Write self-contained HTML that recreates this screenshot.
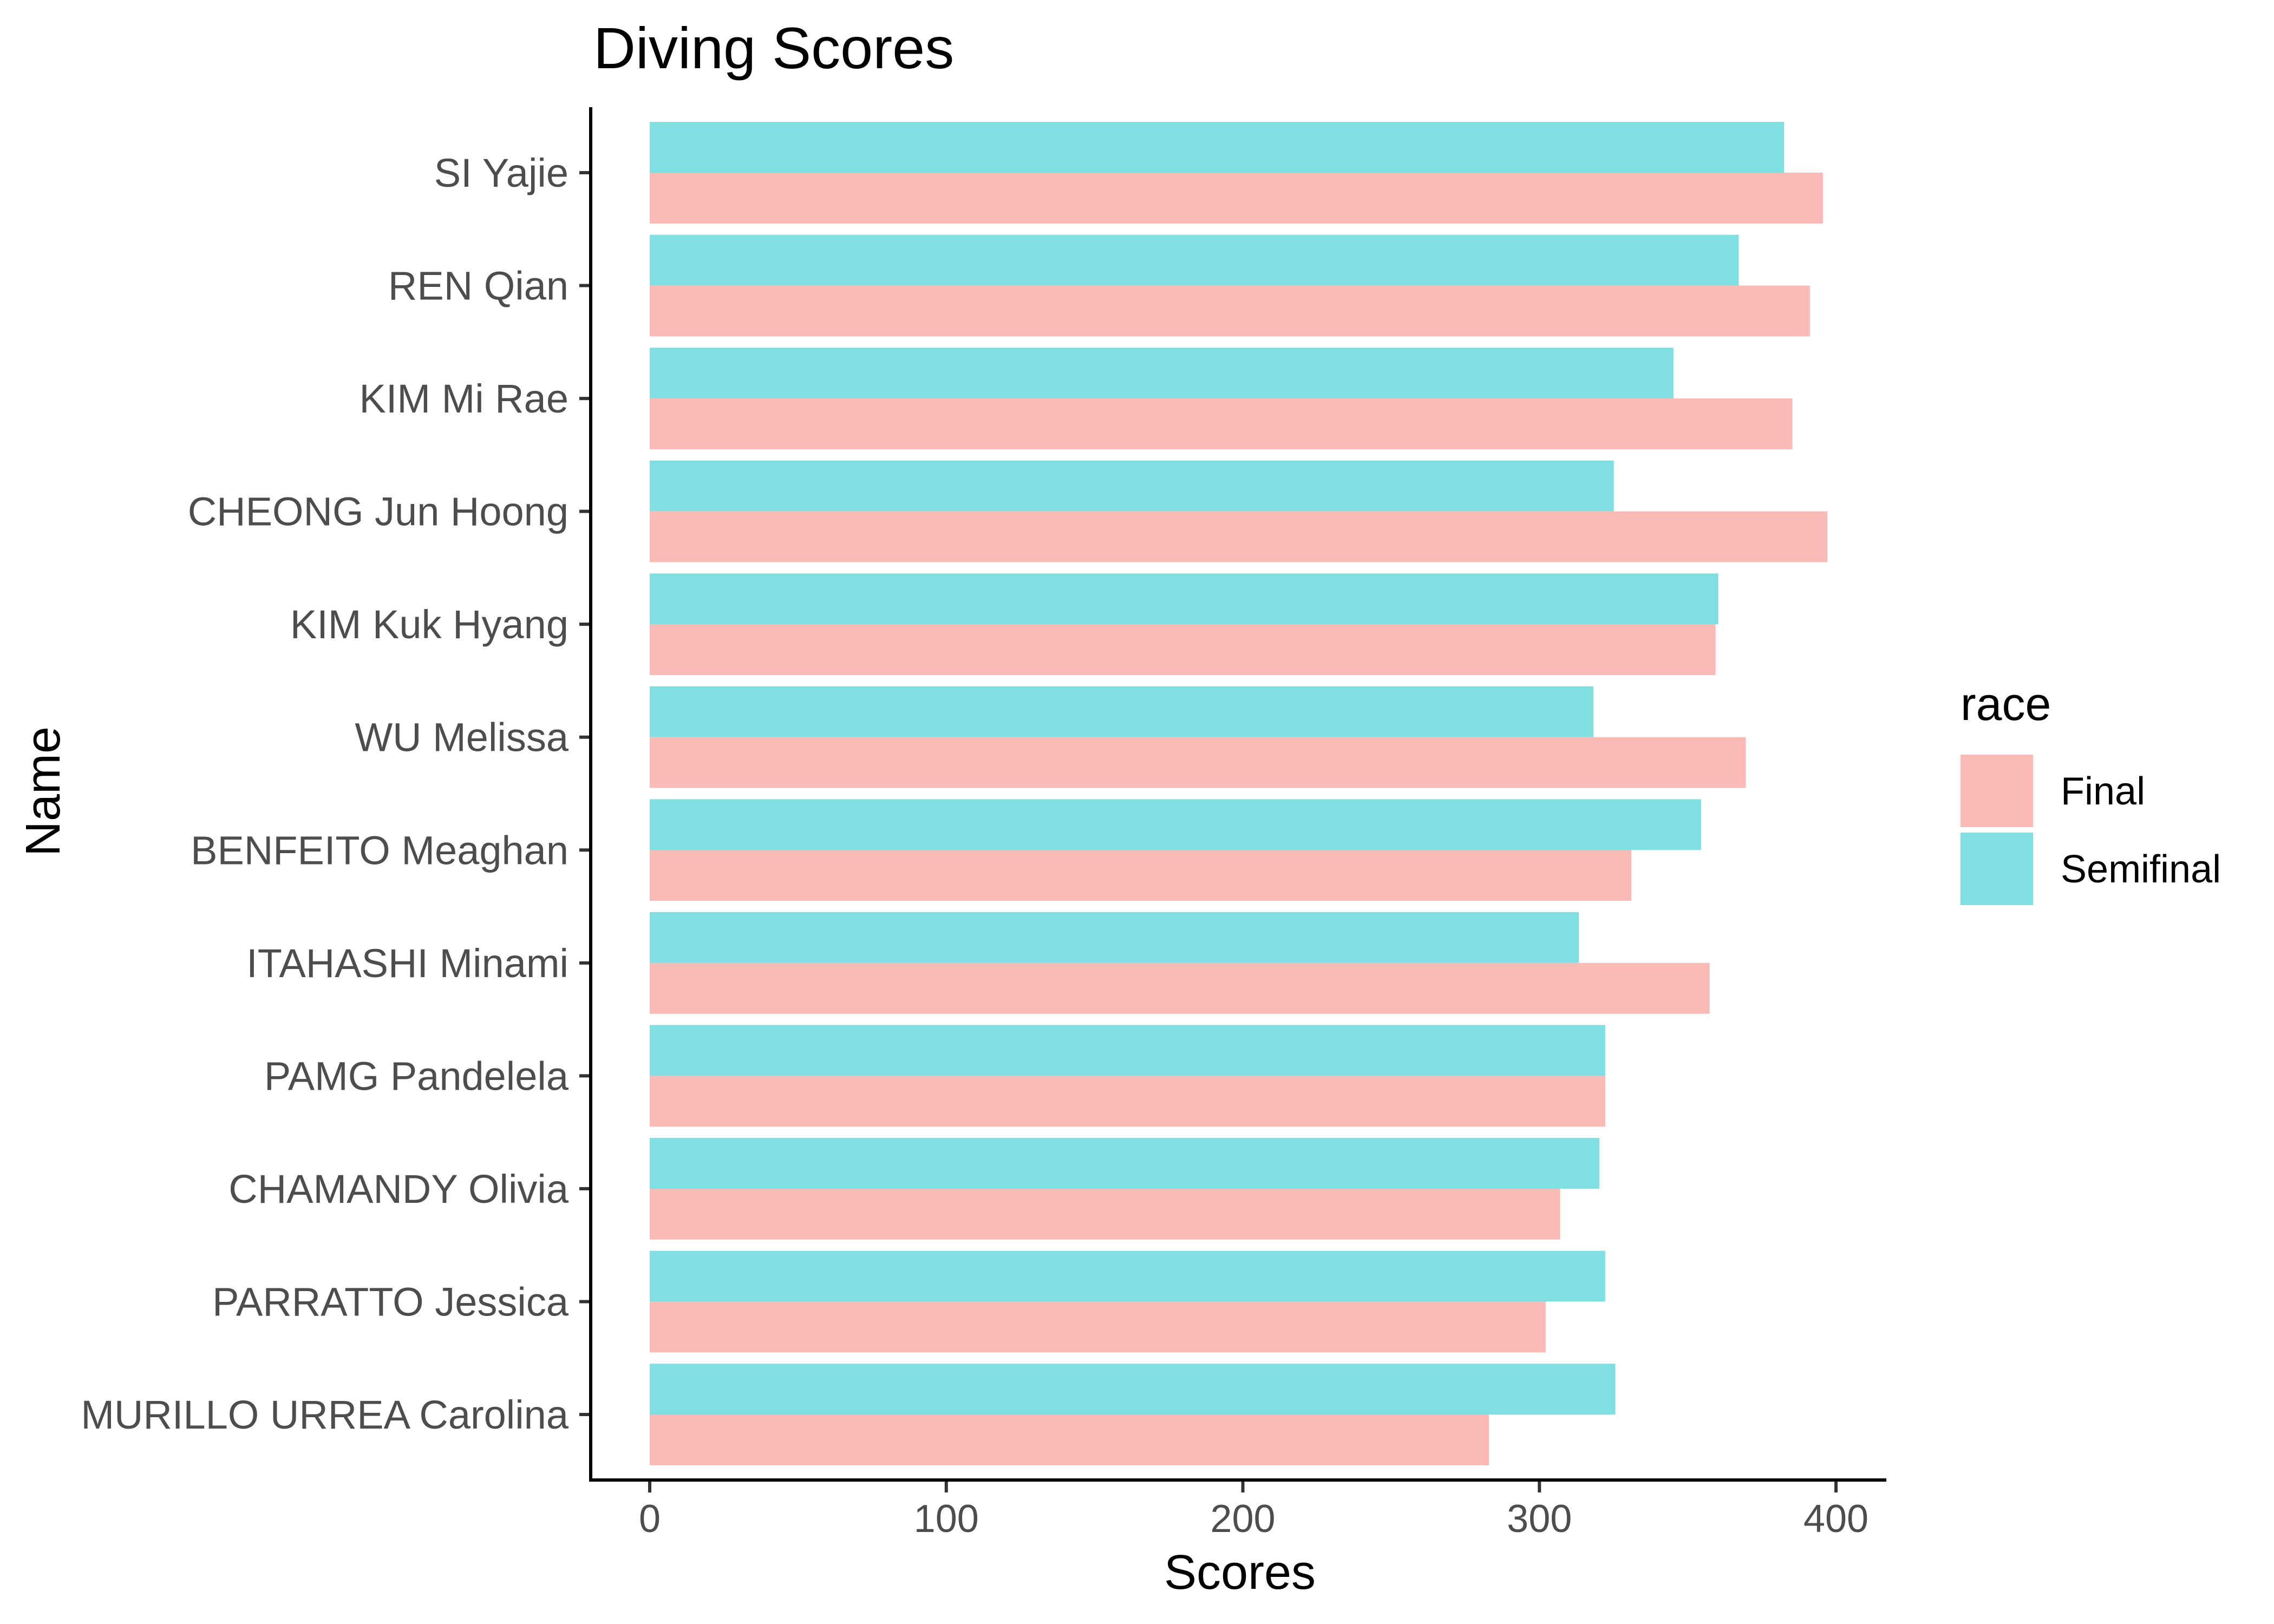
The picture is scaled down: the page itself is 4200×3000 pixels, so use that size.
<!DOCTYPE html>
<html><head><meta charset="utf-8"><style>
html,body{margin:0;padding:0;background:#fff;}
svg{display:block;font-family:"Liberation Sans",Arial,sans-serif;}
</style></head><body>
<svg id="chart" width="4200" height="3000" viewBox="0 0 4200 3000">
<text x="1096" y="126" font-size="108" fill="#000">Diving Scores</text>
<g id="bars"></g>
<g id="yaxis"></g>
<g id="xaxis"></g>
<line x1="1091" y1="198" x2="1091" y2="2737" stroke="#000" stroke-width="6"/>
<line x1="1088" y1="2734" x2="3484" y2="2734" stroke="#000" stroke-width="6"/>
<text x="2290" y="2935" font-size="90" text-anchor="middle" fill="#000">Scores</text>
<text x="0" y="0" font-size="90" text-anchor="middle" fill="#000" transform="translate(110,1462) rotate(-90)">Name</text>
<g>
<text x="3621" y="1330" font-size="86" fill="#000">race</text>
<rect x="3621" y="1394" width="134" height="134" fill="#FABAB6"/>
<text x="3806" y="1486" font-size="72" fill="#000">Final</text>
<rect x="3621" y="1538" width="134" height="134" fill="#80DFE1"/>
<text x="3806" y="1630" font-size="72" fill="#000">Semifinal</text>
</g>
</svg>
<script>
const names = ["SI Yajie","REN Qian","KIM Mi Rae","CHEONG Jun Hoong","KIM Kuk Hyang","WU Melissa","BENFEITO Meaghan","ITAHASHI Minami","PAMG Pandelela","CHAMANDY Olivia","PARRATTO Jessica","MURILLO URREA Carolina"];
const semifinal = [382.5,367.2,345.2,325.1,360.3,318.2,354.5,313.3,322.2,320.2,322.2,325.6];
const final = [395.6,391.2,385.3,397.1,359.4,369.6,331.0,357.4,322.2,307.0,302.1,283.0];
const xTicks = [0,100,200,300,400];

const NS = "http://www.w3.org/2000/svg";
const xScale = v => 1200 + v * (3391 - 1200) / 400;
const rowStep = (2613 - 319) / (names.length - 1);
const yScale = i => 319 + i * rowStep;
const groupH = rowStep * 0.9;
function mk(tag, attrs, parent){const e=document.createElementNS(NS,tag);for(const k in attrs)e.setAttribute(k,attrs[k]);parent.appendChild(e);return e;}
const bars=document.getElementById('bars'), ya=document.getElementById('yaxis'), xa=document.getElementById('xaxis');
names.forEach((n,i)=>{
  const cy=yScale(i);
  const s=mk('rect',{x:xScale(0),y:cy-groupH/2,width:xScale(semifinal[i])-xScale(0),height:groupH/2,fill:'#80DFE1'},bars);
  
  
  const f=mk('rect',{x:xScale(0),y:cy,width:xScale(final[i])-xScale(0),height:groupH/2,fill:'#FABAB6'},bars);
  
  
  const t=mk('line',{x1:1070,y1:cy,x2:1091,y2:cy,stroke:'#333','stroke-width':6},ya);
  
  
  const l=mk('text',{x:1050,y:cy+26,'font-size':74,'text-anchor':'end',fill:'#4d4d4d'},ya);
  l.textContent=n;
  
  
});
xTicks.forEach((v,i)=>{
  const x=xScale(v);
  const t=mk('line',{x1:x,y1:2734,x2:x,y2:2757,stroke:'#333','stroke-width':6},xa);
  
  
  const l=mk('text',{x:x,y:2830,'font-size':72,'text-anchor':'middle',fill:'#4d4d4d'},xa);
  l.textContent=v;
  
  
});
</script>
</body></html>
